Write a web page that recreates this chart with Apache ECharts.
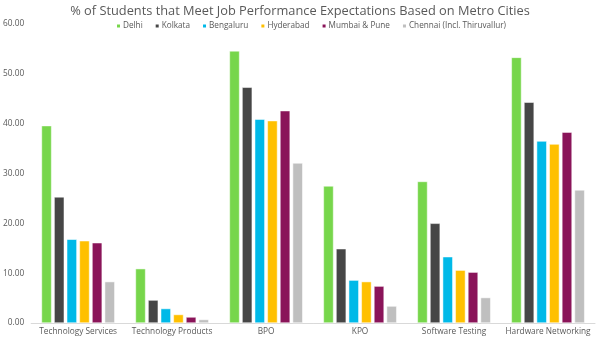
<!DOCTYPE html>
<html><head><meta charset="utf-8">
<script src="https://cdn.jsdelivr.net/npm/echarts@6/dist/echarts.min.js"></script>
<style>html,body{margin:0;padding:0;background:#fff}#c{width:600px;height:344px}</style>
</head><body><div id="c"></div>
<script>
const categories = ["Technology Services","Technology Products","BPO","KPO","Software Testing","Hardware Networking"];
const seriesNames = ["Delhi","Kolkata","Bengaluru","Hyderabad","Mumbai & Pune","Chennai (Incl. Thiruvallur)"];
const delhi     = [39.6, 10.9, 54.6, 27.5, 28.4, 53.3];
const kolkata   = [25.3, 4.6, 47.3, 14.9, 20.0, 44.3];
const bengaluru = [16.8, 2.9, 40.9, 8.6, 13.3, 36.5];
const hyderabad = [16.5, 1.7, 40.6, 8.3, 10.6, 35.9];
const mumbai    = [16.1, 1.2, 42.6, 7.4, 10.2, 38.3];
const chennai   = [8.3, 0.7, 32.1, 3.4, 5.1, 26.7];
const yTicks = {min: 0, max: 60, interval: 10};
const colors = ["#77D64B","#464646","#00B9E8","#FFC000","#8A1459","#BFBFBF"];
const values = [delhi, kolkata, bengaluru, hyderabad, mumbai, chennai];

const chart = echarts.init(document.getElementById('c'), null, {renderer:'canvas'});
chart.setOption({
  animation: false,
  title: {text: "% of Students that Meet Job Performance Expectations Based on Metro Cities",
    left: 'center', top: 0,
    textStyle: {fontFamily: 'Open Sans', fontSize: 12.8, fontWeight: 'normal', color: '#595959'}},
  legend: {top: 17, left: 110, itemWidth: 5, itemHeight: 5, itemGap: 11,
    icon: 'rect',
    textStyle: {fontFamily: 'Open Sans', fontSize: 8.2, color: '#595959', padding:[0,0,0,-3]},
    data: seriesNames},
  grid: {left: 30, right: 5, top: 24, bottom: 21},
  xAxis: {type: 'category', data: categories,
    axisLine: {lineStyle: {color: '#D9D9D9'}}, axisTick: {show: false},
    axisLabel: {fontFamily: 'Open Sans', fontSize: 8.3, color: '#595959', margin: 5, interval: 0}},
  yAxis: {type: 'value', min: yTicks.min, max: yTicks.max, interval: yTicks.interval,
    splitLine: {show: false}, axisLine: {show: false}, axisTick: {show: false},
    axisLabel: {fontFamily: 'Open Sans', fontSize: 8.3, color: '#595959', margin: 7,
      formatter: v => v.toFixed(2)}},
  series: seriesNames.map((n, i) => ({
    name: n, type: 'bar', data: values[i], barGap: '25%', barCategoryGap: '22%',
    itemStyle: {color: colors[i], borderColor: '#fff', borderWidth: 0.5}
  }))
});
</script></body></html>
